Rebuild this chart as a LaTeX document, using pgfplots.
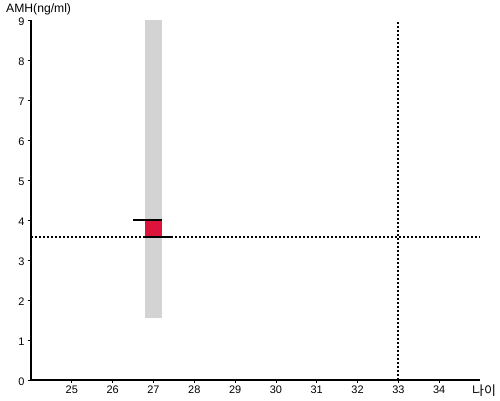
\documentclass[border=0pt]{standalone}
\usepackage{pgfplots}
\pgfplotsset{compat=1.18}
\usepackage{fontspec}
\setmainfont{Liberation Sans}
\newfontfamily\kr{Noto Sans CJK KR}
\definecolor{redbox}{HTML}{DC143C}
\definecolor{band}{HTML}{D3D3D3}
\begin{document}
\begin{tikzpicture}[x=1bp,y=1bp]
\path[use as bounding box] (-31,-20) rectangle (469,380);
\begin{axis}[
  at={(0,0)}, anchor=south west,
  scale only axis, width=449bp, height=360bp,
  xmin=24, xmax=35, ymin=0, ymax=9,
  axis lines=left, axis line style={-, line width=1.4bp},
  xtick={25,...,34}, ytick={0,...,9},
  tick align=outside, major tick length=3bp,
  tick style={line width=0.8bp, black},
  ticklabel style={font=\fontsize{11}{13}\selectfont},
  /pgf/number format/assume math mode=true,
  xticklabel style={yshift=1bp},
  yticklabel style={yshift=-1.5bp},
  clip=false,
]
\addplot[fill=band, draw=none] coordinates {(26.8,1.55) (27.2,1.55) (27.2,9) (26.8,9)} -- cycle;
\addplot[fill=redbox, draw=none] coordinates {(26.8,3.58) (27.2,3.58) (27.2,4.0) (26.8,4.0)} -- cycle;
\addplot[black, line width=2bp] coordinates {(26.5,4.0) (27.2,4.0)};
\addplot[black, line width=2bp] coordinates {(26.8,3.58) (27.46,3.58)};
\addplot[black, line width=2bp, dash pattern=on 2bp off 2bp] coordinates {(24,3.58) (35,3.58)};
\addplot[black, line width=2bp, dash pattern=on 2bp off 2bp] coordinates {(33,0) (33,9)};
\node[anchor=south west, font=\fontsize{12.2}{14}\selectfont, inner sep=0pt] at (rel axis cs:0,1) [xshift=-25bp, yshift=5bp] {AMH(ng/ml)};
\node[font=\kr\fontsize{13}{15}\selectfont, inner sep=0pt] at (rel axis cs:1,0) [xshift=4bp, yshift=-11bp] {나이};
\end{axis}
\end{tikzpicture}
\end{document}
